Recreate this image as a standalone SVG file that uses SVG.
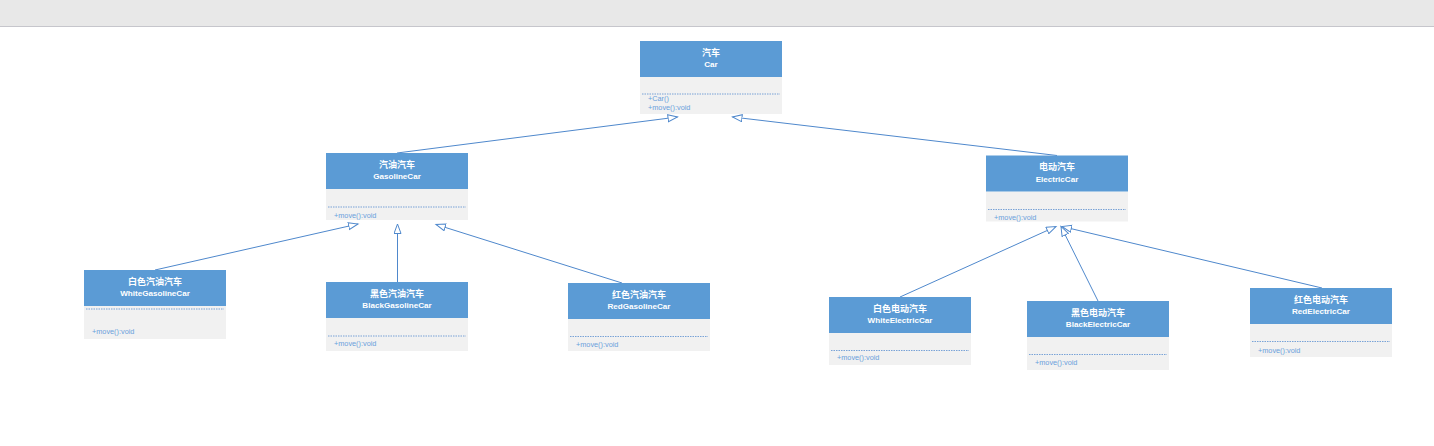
<svg xmlns="http://www.w3.org/2000/svg" width="1434" height="446" viewBox="0 0 1434 446">
<defs>
<style>
.hd{fill:#5b9bd5}
.bd{fill:#f1f1f1}
.ds{stroke:#5b8fd0;stroke-width:0.8;stroke-dasharray:1.5 1}
.t1{font-family:"Liberation Sans","Noto Sans CJK SC",sans-serif;font-weight:bold;font-size:9px;fill:#ffffff;text-anchor:middle}
.t2{font-family:"Liberation Sans","Noto Sans CJK SC",sans-serif;font-weight:bold;font-size:8.1px;fill:#ffffff;text-anchor:middle}
.m{font-family:"Liberation Sans",sans-serif;font-size:7.3px;fill:#6a9fdc}
.c{fill:none;stroke:#4f88cc;stroke-width:1}
</style>
<marker id="tri" markerUnits="userSpaceOnUse" markerWidth="12" markerHeight="9" refX="10" refY="4" orient="auto">
<path d="M0.5,0.5 L10,4 L0.5,7.5 Z" fill="#ffffff" stroke="#4f88cc" stroke-width="1"/>
</marker>
</defs>
<rect x="0" y="0" width="1434" height="446" fill="#ffffff"/>
<rect x="0" y="0" width="1434" height="26" fill="#e8e8e8"/>
<line x1="0" y1="26.5" x2="1434" y2="26.5" stroke="#c6c6cc" stroke-width="1"/>

<g id="connectors">
<line class="c" x1="397" y1="153" x2="677.5" y2="117" marker-end="url(#tri)"/>
<line class="c" x1="1057" y1="155.5" x2="732.5" y2="117" marker-end="url(#tri)"/>
<line class="c" x1="155" y1="270" x2="358" y2="224" marker-end="url(#tri)"/>
<line class="c" x1="397.5" y1="282" x2="397.5" y2="224" marker-end="url(#tri)"/>
<line class="c" x1="622" y1="283" x2="436" y2="224.5" marker-end="url(#tri)"/>
<line class="c" x1="900" y1="297" x2="1056" y2="226.5" marker-end="url(#tri)"/>
<line class="c" x1="1098" y1="301" x2="1061" y2="226.5" marker-end="url(#tri)"/>
<line class="c" x1="1322" y1="288" x2="1062" y2="226.5" marker-end="url(#tri)"/>
</g>

<g id="car">
<rect class="bd" x="640" y="77" width="142" height="37"/>
<rect class="hd" x="640" y="41" width="142" height="36"/>
<text class="t1" x="711" y="55.5">汽车</text>
<text class="t2" x="711" y="67">Car</text>
<line class="ds" x1="642" y1="94" x2="780" y2="94"/>
<text class="m" x="648" y="101">+Car()</text>
<text class="m" x="648" y="110.3">+move():void</text>
</g>

<g id="gasolinecar">
<rect class="bd" x="326" y="189" width="142" height="31"/>
<rect class="hd" x="326" y="153" width="142" height="36"/>
<text class="t1" x="397" y="167.5">汽油汽车</text>
<text class="t2" x="397" y="179">GasolineCar</text>
<line class="ds" x1="328" y1="207" x2="466" y2="207"/>
<text class="m" x="334" y="217.6">+move():void</text>
</g>

<g id="electriccar">
<rect class="bd" x="986" y="191.5" width="142" height="30"/>
<rect class="hd" x="986" y="155.5" width="142" height="36"/>
<text class="t1" x="1057" y="170">电动汽车</text>
<text class="t2" x="1057" y="181.5">ElectricCar</text>
<line class="ds" x1="988" y1="209.5" x2="1126" y2="209.5"/>
<text class="m" x="994" y="220.4">+move():void</text>
</g>

<g id="whitegasolinecar">
<rect class="bd" x="84" y="306" width="142" height="33"/>
<rect class="hd" x="84" y="270" width="142" height="36"/>
<text class="t1" x="155" y="284.5">白色汽油汽车</text>
<text class="t2" x="155" y="296">WhiteGasolineCar</text>
<line class="ds" x1="86" y1="309" x2="224" y2="309"/>
<text class="m" x="92" y="334">+move():void</text>
</g>

<g id="blackgasolinecar">
<rect class="bd" x="326" y="318" width="142" height="33"/>
<rect class="hd" x="326" y="282" width="142" height="36"/>
<text class="t1" x="397" y="296.5">黑色汽油汽车</text>
<text class="t2" x="397" y="308">BlackGasolineCar</text>
<line class="ds" x1="328" y1="336" x2="466" y2="336"/>
<text class="m" x="334" y="346.4">+move():void</text>
</g>

<g id="redgasolinecar">
<rect class="bd" x="568" y="319" width="142" height="32"/>
<rect class="hd" x="568" y="283" width="142" height="36"/>
<text class="t1" x="639" y="297.5">红色汽油汽车</text>
<text class="t2" x="639" y="309">RedGasolineCar</text>
<line class="ds" x1="570" y1="336.5" x2="708" y2="336.5"/>
<text class="m" x="576" y="346.6">+move():void</text>
</g>

<g id="whiteelectriccar">
<rect class="bd" x="829" y="333" width="142" height="32"/>
<rect class="hd" x="829" y="297" width="142" height="36"/>
<text class="t1" x="900" y="311.5">白色电动汽车</text>
<text class="t2" x="900" y="323">WhiteElectricCar</text>
<line class="ds" x1="831" y1="350.5" x2="969" y2="350.5"/>
<text class="m" x="837" y="360">+move():void</text>
</g>

<g id="blackelectriccar">
<rect class="bd" x="1027" y="337" width="142" height="33"/>
<rect class="hd" x="1027" y="301" width="142" height="36"/>
<text class="t1" x="1098" y="315.5">黑色电动汽车</text>
<text class="t2" x="1098" y="327">BlackElectricCar</text>
<line class="ds" x1="1029" y1="354.5" x2="1167" y2="354.5"/>
<text class="m" x="1035" y="365.3">+move():void</text>
</g>

<g id="redelectriccar">
<rect class="bd" x="1250" y="324" width="142" height="33"/>
<rect class="hd" x="1250" y="288" width="142" height="36"/>
<text class="t1" x="1321" y="302.5">红色电动汽车</text>
<text class="t2" x="1321" y="314">RedElectricCar</text>
<line class="ds" x1="1252" y1="341.5" x2="1390" y2="341.5"/>
<text class="m" x="1258" y="352.6">+move():void</text>
</g>
</svg>
